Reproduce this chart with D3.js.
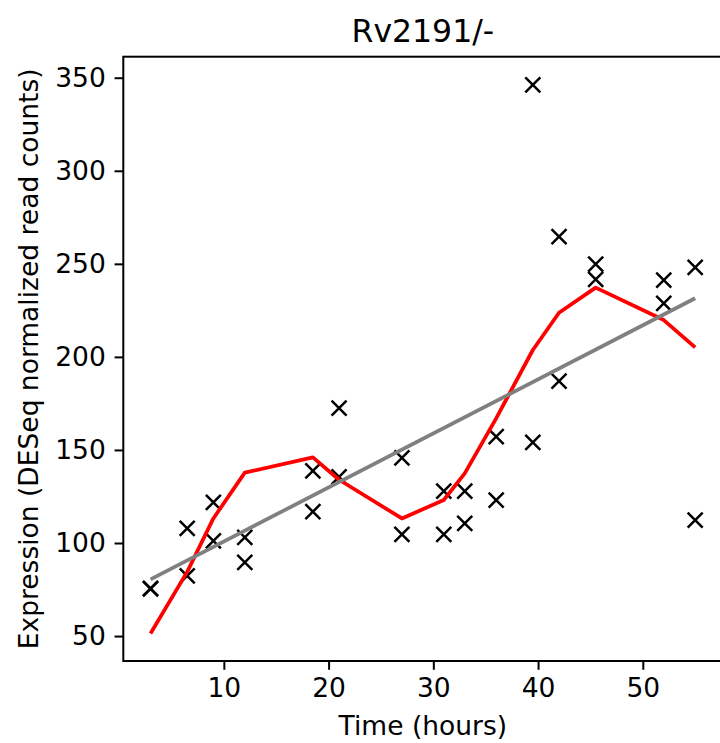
<!DOCTYPE html>
<html>
<head>
<meta charset="utf-8">
<script src="https://cdn.jsdelivr.net/npm/d3@7"></script>
<style>
  html, body { margin: 0; padding: 0; background: #fff; }
  svg { display: block; font-family: "DejaVu Sans", sans-serif; }
</style>
</head>
<body>
<svg id="chart" width="720" height="743"></svg>
<script>
// ---- data ----
const title = "Rv2191/-";
const xLabel = "Time (hours)";
const yLabel = "Expression (DESeq normalized read counts)";

const sampleTimes  = [3, 3, 6.5, 6.5, 9, 9, 12, 12, 18.5, 18.5, 21, 21, 27, 27, 31, 31, 33, 33, 36, 36, 39.5, 39.5, 42, 42, 45.5, 45.5, 52, 52, 55, 55];
const sampleValues = [75.6, 75.3, 107.9, 82.4, 121.8, 101.2, 103, 89.6, 116.8, 138.8, 172.5, 135.5, 145.8, 104.6, 127.9, 104.6, 127.9, 110.6, 157.1, 123.1, 154.1, 346.1, 264.6, 187, 249.9, 241.7, 241.3, 228.8, 248.1, 112.3];

const smoothTimes  = [3, 6.5, 9, 12, 18.5, 21, 27, 31, 33, 36, 39.5, 42, 45.5, 52, 55];
const smoothValues = [51.4, 84.5, 113.2, 137.8, 146, 134, 113.2, 123.1, 137.4, 167, 203.7, 223.7, 237.2, 219.8, 205.1];

const fitTimes  = [3, 55];
const fitValues = [80.5, 231.5];

const xTicks = [10, 20, 30, 40, 50];
const yTicks = [50, 100, 150, 200, 250, 300, 350];

// ---- layout ----
const padL = 123.3, padR = 722.4, padT = 56.7, padB = 661;
const svg = d3.select("#chart");

const x = d3.scaleLinear().domain([0.4, 57.6]).range([padL, padR]);
const y = d3.scaleLinear().domain([36.6, 361.3]).range([padB, padT]);

// axes
const tickLen = 8.75, tickPad = 8.75;
const gx = svg.append("g").attr("transform", `translate(0,${padB})`)
  .call(d3.axisBottom(x).tickValues(xTicks).tickFormat(d3.format("d")).tickSize(tickLen).tickPadding(tickPad));
const gy = svg.append("g").attr("transform", `translate(${padL},0)`)
  .call(d3.axisLeft(y).tickValues(yTicks).tickFormat(d3.format("d")).tickSize(tickLen).tickPadding(tickPad));
[gx, gy].forEach(g => {
  g.select(".domain").remove();
  g.selectAll(".tick line").attr("stroke", "#000").attr("stroke-width", 2);
  g.selectAll(".tick text").attr("fill", "#000").style("font-size", "26.5px").style("font-family", "DejaVu Sans");
});

// data marks
svg.append("clipPath").attr("id", "clip").append("rect")
  .attr("x", padL).attr("y", padT).attr("width", padR - padL).attr("height", padB - padT);
const plot = svg.append("g").attr("clip-path", "url(#clip)");

const h = 7.5;
const pts = sampleTimes.map((t, i) => [t, sampleValues[i]]);
plot.selectAll("path.mk").data(pts).enter().append("path")
  .attr("class", "mk")
  .attr("d", d => {
    const cx = x(d[0]), cy = y(d[1]);
    return `M${cx - h},${cy - h}L${cx + h},${cy + h}M${cx - h},${cy + h}L${cx + h},${cy - h}`;
  })
  .attr("stroke", "#000").attr("stroke-width", 2.5).attr("fill", "none");

const line = d3.line().x(d => x(d[0])).y(d => y(d[1]));
plot.append("path")
  .datum(smoothTimes.map((t, i) => [t, smoothValues[i]]))
  .attr("d", line).attr("fill", "none").attr("stroke", "#ff0000").attr("stroke-width", 3.75)
  .attr("stroke-linejoin", "round").attr("stroke-linecap", "butt");
plot.append("path")
  .datum(fitTimes.map((t, i) => [t, fitValues[i]]))
  .attr("d", line).attr("fill", "none").attr("stroke", "#808080").attr("stroke-width", 3.75);

// spines
svg.append("rect").attr("x", padL).attr("y", padT).attr("width", padR - padL).attr("height", padB - padT)
  .attr("fill", "none").attr("stroke", "#000").attr("stroke-width", 2);

// texts
svg.append("text").attr("x", (padL + padR) / 2).attr("y", 41.5).attr("text-anchor", "middle")
  .style("font-size", "31.5px").attr("fill", "#000").text(title);
svg.append("text").attr("x", (padL + padR) / 2).attr("y", 735).attr("text-anchor", "middle")
  .style("font-size", "26.5px").attr("fill", "#000").text(xLabel);
svg.append("text").attr("transform", `translate(38,${(padT + padB) / 2}) rotate(-90)`)
  .attr("text-anchor", "middle").style("font-size", "26.5px").attr("fill", "#000").text(yLabel);
</script>
</body>
</html>
